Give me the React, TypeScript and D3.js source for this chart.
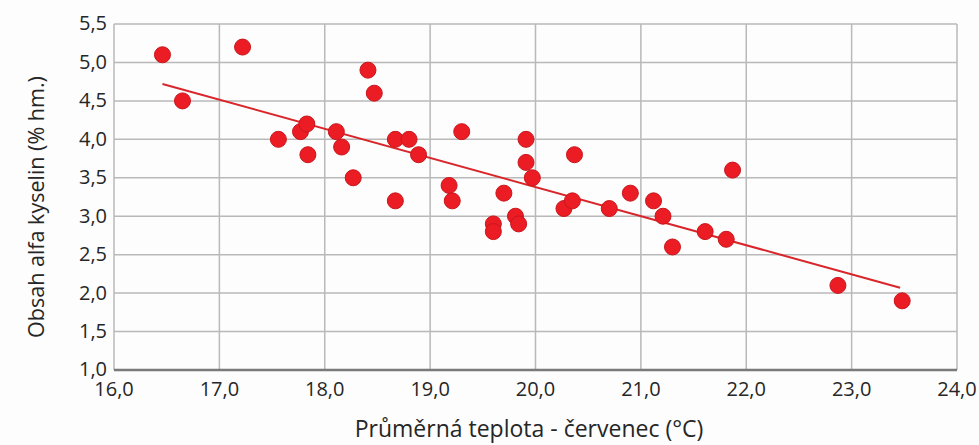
import React, { useEffect, useRef } from "react";
import * as d3 from "d3";

// temperature (°C) in July
const temps = [
  16.46, 16.65, 17.22, 17.56, 17.77, 17.83, 17.84, 18.11, 18.16, 18.27,
  18.41, 18.47, 18.67, 18.67, 18.8, 18.89, 19.18, 19.21, 19.3, 19.6,
  19.6, 19.7, 19.81, 19.84, 19.91, 19.91, 19.97, 20.27, 20.35, 20.37,
  20.7, 20.9, 21.12, 21.21, 21.3, 21.61, 21.81, 21.87, 22.87, 23.48,
];
// alpha acid content (% hm.)
const alpha = [
  5.1, 4.5, 5.2, 4.0, 4.1, 4.2, 3.8, 4.1, 3.9, 3.5,
  4.9, 4.6, 4.0, 3.2, 4.0, 3.8, 3.4, 3.2, 4.1, 2.9,
  2.8, 3.3, 3.0, 2.9, 4.0, 3.7, 3.5, 3.1, 3.2, 3.8,
  3.1, 3.3, 3.2, 3.0, 2.6, 2.8, 2.7, 3.6, 2.1, 1.9,
];
// linear trend end points
const trendX = [16.46, 23.46];
const trendY = [4.72, 2.07];

const xTicks = [16, 17, 18, 19, 20, 21, 22, 23, 24];
const yTicks = [1.0, 1.5, 2.0, 2.5, 3.0, 3.5, 4.0, 4.5, 5.0, 5.5];

const xTitle = "Průměrná teplota - červenec (°C)";
const yTitle = "Obsah alfa kyselin (% hm.)";

const W = 979, H = 445;
const margin = { top: 24, right: 22, bottom: 75, left: 114 };

export default function App() {
  const ref = useRef<SVGSVGElement>(null);

  useEffect(() => {
    const svg = d3.select(ref.current);
    svg.selectAll("*").remove();
    const w = W - margin.left - margin.right;
    const h = H - margin.top - margin.bottom;
    const fmt = (v: number) => d3.format(".1f")(v).replace(".", ",");
    const font = "'Open Sans', sans-serif";

    const x = d3.scaleLinear().domain([16, 24]).range([0, w]);
    const y = d3.scaleLinear().domain([1, 5.5]).range([h, 0]);

    svg.append("rect").attr("width", W).attr("height", H).attr("fill", "#fdfdfd");

    const g = svg.append("g").attr("transform", `translate(${margin.left},${margin.top})`);

    // grid
    g.selectAll(".vgrid").data(xTicks).join("line").attr("class", "vgrid")
      .attr("x1", d => x(d)).attr("x2", d => x(d)).attr("y1", 0).attr("y2", h)
      .attr("stroke", "#b9b9b9").attr("stroke-width", 1.5);
    g.selectAll(".hgrid").data(yTicks).join("line").attr("class", "hgrid")
      .attr("x1", 0).attr("x2", w).attr("y1", d => y(d)).attr("y2", d => y(d))
      .attr("stroke", "#b9b9b9").attr("stroke-width", 1.5);

    // bottom axis line
    g.append("line").attr("x1", 0).attr("x2", w).attr("y1", h).attr("y2", h)
      .attr("stroke", "#7a7a7a").attr("stroke-width", 2.5);

    // tick labels
    g.selectAll(".xl").data(xTicks).join("text").attr("class", "xl")
      .attr("x", d => x(d)).attr("y", h + 26)
      .attr("text-anchor", "middle").attr("font-family", font).attr("font-size", 20)
      .attr("fill", "#262626").text(d => fmt(d));
    g.selectAll(".yl").data(yTicks).join("text").attr("class", "yl")
      .attr("x", -7).attr("y", d => y(d)).attr("dy", "0.32em")
      .attr("text-anchor", "end").attr("font-family", font).attr("font-size", 20)
      .attr("fill", "#262626").text(d => fmt(d));

    // trend line
    const line = d3.line<number>().x(d => x(trendX[d])).y(d => y(trendY[d]));
    g.append("path").attr("d", line([0, 1])).attr("fill", "none")
      .attr("stroke", "#d8262b").attr("stroke-width", 2);

    // points
    g.selectAll(".pt").data(temps).join("circle").attr("class", "pt")
      .attr("cx", d => x(d)).attr("cy", (d, i) => y(alpha[i])).attr("r", 8)
      .attr("fill", "#ec1c24").attr("stroke", "#c8161c").attr("stroke-width", 1);

    // axis titles
    svg.append("text").attr("x", 529).attr("y", 437)
      .attr("text-anchor", "middle").attr("font-family", font).attr("font-size", 23)
      .attr("fill", "#262626").text(xTitle);
    svg.append("text").attr("transform", `translate(44,207) rotate(-90)`)
      .attr("text-anchor", "middle").attr("font-family", font).attr("font-size", 21.5)
      .attr("fill", "#262626").text(yTitle);
  }, []);

  return (
    <svg ref={ref} width={W} height={H} style={{ position: "absolute", left: 0, top: 0 }} />
  );
}
